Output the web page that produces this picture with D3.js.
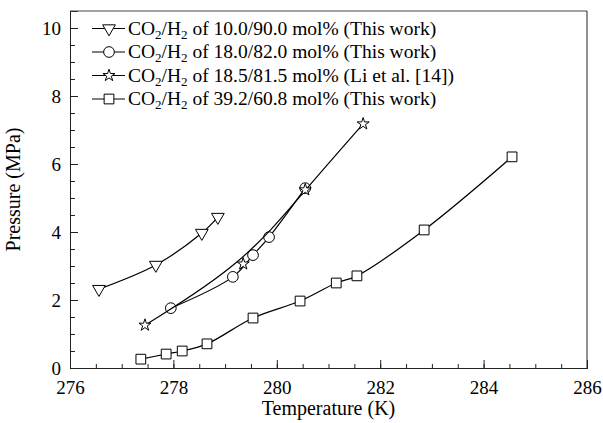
<!DOCTYPE html>
<html>
<head>
<meta charset="utf-8">
<script src="https://cdn.jsdelivr.net/npm/d3@7"></script>
<style>
  body { margin: 0; background: #fff; }
</style>
</head>
<body>
<div id="chart"></div>
<script>
// data
const tempA = [276.56, 277.66, 278.55, 278.86];
const presA = [2.32, 3.03, 3.97, 4.44];

const tempB = [277.95, 279.15, 279.54, 279.85, 280.55];
const presB = [1.76, 2.68, 3.32, 3.85, 5.29];

const tempC = [277.45, 279.35, 280.55, 281.67];
const presC = [1.26, 3.06, 5.24, 7.18];

const tempD = [277.37, 277.86, 278.17, 278.65, 279.54, 280.45, 281.15, 281.55, 282.85, 284.55];
const presD = [0.26, 0.41, 0.50, 0.71, 1.47, 1.97, 2.50, 2.71, 4.06, 6.21];

const seriesNames = ["10.0/90.0 mol% (This work)", "18.0/82.0 mol% (This work)",
                     "18.5/81.5 mol% (Li et al. [14])", "39.2/60.8 mol% (This work)"];

const xTicks = [276, 278, 280, 282, 284, 286];
const yTicks = [0, 2, 4, 6, 8, 10];

const FONT = "'Liberation Serif', 'DejaVu Serif', serif";

const series = [
    {name: seriesNames[0], t: tempA, p: presA, symbol: d3.symbolTriangle, size: 70, rot: 180, curve: d3.curveCatmullRom},
    {name: seriesNames[1], t: tempB, p: presB, symbol: d3.symbolCircle, size: 90, rot: 0, curve: d3.curveCatmullRom},
    {name: seriesNames[2], t: tempC, p: presC, symbol: d3.symbolStar, size: 45, rot: 0, curve: d3.curveBasis},
    {name: seriesNames[3], t: tempD, p: presD, symbol: d3.symbolSquare, size: 95, rot: 0, curve: d3.curveCatmullRom}
];

const W = 603, H = 423;
const margin = {top: 11, right: 16, bottom: 55, left: 70};
const width = W - margin.left - margin.right;
const height = H - margin.top - margin.bottom;

const svg = d3.select("#chart").append("svg")
    .attr("width", W)
    .attr("height", H)
    .attr("font-family", FONT);

const g = svg.append("g")
    .attr("transform", `translate(${margin.left},${margin.top})`);

const x = d3.scaleLinear().domain([276, 286]).range([0, width]);
const y = d3.scaleLinear().domain([0, 10.5]).range([height, 0]);

// minor ticks first
g.append("g")
    .attr("class", "x-minor")
    .attr("transform", `translate(0,${height})`)
    .call(d3.axisBottom(x).tickValues(d3.range(276, 286.01, 0.5)).tickSize(-4).tickFormat(""));
g.append("g")
    .attr("class", "y-minor")
    .call(d3.axisLeft(y).tickValues(d3.range(0, 10.01, 0.5)).tickSize(-5).tickFormat(""));

// main axes
g.append("g")
    .attr("class", "x-axis")
    .attr("transform", `translate(0,${height})`)
    .call(d3.axisBottom(x).tickValues(xTicks).tickSize(-8).tickPadding(8).tickFormat(d3.format("d")));
g.append("g")
    .attr("class", "y-axis")
    .call(d3.axisLeft(y).tickValues(yTicks).tickSize(-8).tickPadding(9).tickFormat(d3.format("d")));

g.selectAll(".x-axis, .y-axis")
    .attr("font-family", FONT)
    .attr("font-size", 19);
g.selectAll(".x-axis text, .y-axis text").attr("fill", "#000");
g.selectAll(".x-axis text").attr("dy", "0.95em");
g.selectAll(".domain, .tick line").attr("stroke", "#222");

// top and right frame
g.append("line").attr("x1", 0).attr("x2", width).attr("y1", 0).attr("y2", 0).attr("stroke", "#444");
g.append("line").attr("x1", width).attr("x2", width).attr("y1", 0).attr("y2", height).attr("stroke", "#222");

// axis titles
g.append("text")
    .attr("x", width / 2)
    .attr("y", height + 47)
    .attr("text-anchor", "middle")
    .attr("font-size", 20)
    .text("Temperature (K)");

g.append("text")
    .attr("transform", `translate(${-50},${height / 2}) rotate(-90)`)
    .attr("text-anchor", "middle")
    .attr("font-size", 20)
    .text("Pressure (MPa)");

// lines and markers
series.forEach(s => {
    const pts = s.t.map((t, i) => [t, s.p[i]]);
    const line = d3.line()
        .x(d => x(d[0]))
        .y(d => y(d[1]))
        .curve(s.curve);
    g.append("path")
        .datum(pts)
        .attr("d", line)
        .attr("fill", "none")
        .attr("stroke", "#000")
        .attr("stroke-width", 1.2);
    g.selectAll(null)
        .data(pts)
        .enter()
        .append("path")
        .attr("d", d3.symbol().type(s.symbol).size(s.size))
        .attr("transform", d => `translate(${x(d[0])},${y(d[1])}) rotate(${s.rot})`)
        .attr("fill", "#fff")
        .attr("stroke", "#000")
        .attr("stroke-width", 1);
});

// legend
const legend = g.append("g")
    .attr("transform", `translate(22, 17.5)`);

series.forEach((s, i) => {
    const row = legend.append("g").attr("transform", `translate(0, ${i * 23.5})`);
    row.append("line")
        .attr("x1", 0).attr("x2", 33)
        .attr("y1", 0).attr("y2", 0)
        .attr("stroke", "#000")
        .attr("stroke-width", 1.2);
    row.append("path")
        .attr("d", d3.symbol().type(s.symbol).size(s.size))
        .attr("transform", `translate(17,0) rotate(${s.rot})`)
        .attr("fill", "#fff")
        .attr("stroke", "#000");
    const txt = row.append("text")
        .attr("x", 36)
        .attr("y", 6)
        .attr("font-size", 19.5);
    txt.append("tspan").text("CO");
    txt.append("tspan").text("2").attr("font-size", 13).attr("dy", 4);
    txt.append("tspan").text("/H").attr("dy", -4);
    txt.append("tspan").text("2").attr("font-size", 13).attr("dy", 4);
    txt.append("tspan").text(" of " + s.name).attr("dy", -4);
});
</script>
</body>
</html>
